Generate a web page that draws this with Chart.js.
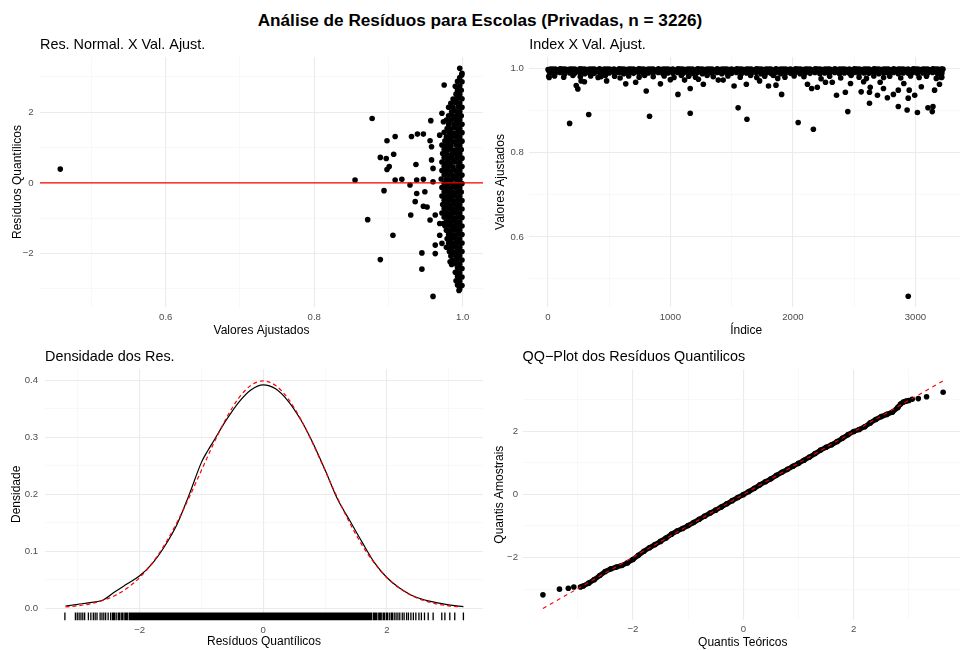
<!DOCTYPE html>
<html>
<head>
<meta charset="utf-8">
<script src="https://cdn.jsdelivr.net/npm/chart.js@4/dist/chart.umd.min.js"></script>
<style>
  html, body { margin: 0; padding: 0; background: #fff; overflow: hidden; width: 960px; height: 650px; }
  #titulo { position: absolute; left: 0; top: 10px; width: 960px; text-align: center;
            font: bold 17.2px 'Liberation Sans', Arial, sans-serif; line-height: 20px; color: #000; }
  canvas { position: absolute; }
</style>
</head>
<body>
<div id="titulo">Análise de Resíduos para Escolas (Privadas, n = 3226)</div>
<canvas id="g1" width="490" height="310" style="left:0px;top:30px"></canvas>
<canvas id="g2" width="487" height="310" style="left:480px;top:30px"></canvas>
<canvas id="g3" width="490" height="310" style="left:0px;top:340px"></canvas>
<canvas id="g4" width="487" height="310" style="left:480px;top:340px"></canvas>
<script>
// ---------- Resíduos quantílicos x valores ajustados: [ajustado, resíduo] ----------
const residuosVsAjustados = [
  [0.999,3.10],[0.996,2.98],[0.999,2.86],[0.993,2.87],[0.996,2.74],[0.990,2.73],[0.998,2.62],[0.993,2.61],
  [0.996,2.50],[0.991,2.51],[0.999,2.38],[0.993,2.39],[0.987,2.37],[0.996,2.26],[0.990,2.27],[0.984,2.25],
  [0.999,2.14],[0.994,2.15],[0.987,2.13],[0.981,2.14],[0.996,2.02],[0.990,2.03],[0.985,2.01],
  [0.998,1.90],[0.993,1.91],[0.987,1.89],[0.981,1.90],[0.996,1.78],[0.990,1.79],[0.984,1.77],[0.978,1.78],
  [0.999,1.66],[0.993,1.67],[0.988,1.65],[0.981,1.66],[0.996,1.54],[0.990,1.55],[0.984,1.53],[0.979,1.54],
  [0.999,1.42],[0.993,1.43],[0.987,1.41],[0.982,1.42],[0.975,1.43],[0.996,1.30],[0.990,1.31],[0.984,1.29],[0.978,1.30],
  [0.999,1.18],[0.993,1.19],[0.987,1.17],[0.981,1.18],[0.976,1.19],[0.996,1.06],[0.991,1.07],[0.984,1.05],[0.978,1.06],[0.972,1.07],
  [0.998,0.94],[0.993,0.95],[0.987,0.93],[0.981,0.94],[0.975,0.95],[0.996,0.82],[0.990,0.83],[0.985,0.81],[0.978,0.82],[0.973,0.83],
  [0.999,0.70],[0.993,0.71],[0.987,0.69],[0.981,0.70],[0.975,0.71],[0.996,0.58],[0.990,0.59],[0.984,0.57],[0.978,0.58],[0.972,0.59],
  [0.999,0.46],[0.994,0.47],[0.987,0.45],[0.981,0.46],[0.975,0.47],[0.996,0.34],[0.990,0.35],[0.984,0.33],[0.978,0.34],[0.972,0.35],
  [0.999,0.22],[0.993,0.23],[0.987,0.21],[0.981,0.22],[0.975,0.23],[0.996,0.10],[0.990,0.11],[0.984,0.09],[0.978,0.10],[0.971,0.11],
  [0.999,-0.02],[0.993,-0.01],[0.987,-0.03],[0.981,-0.02],[0.975,-0.01],[0.996,-0.14],[0.990,-0.13],[0.984,-0.15],[0.978,-0.14],[0.972,-0.13],
  [0.998,-0.26],[0.993,-0.25],[0.987,-0.27],[0.981,-0.26],[0.975,-0.25],[0.996,-0.38],[0.990,-0.37],[0.984,-0.39],[0.978,-0.38],[0.972,-0.37],
  [0.999,-0.50],[0.993,-0.49],[0.987,-0.51],[0.981,-0.50],[0.975,-0.49],[0.996,-0.62],[0.990,-0.61],[0.984,-0.63],[0.978,-0.62],[0.973,-0.61],
  [0.999,-0.74],[0.993,-0.73],[0.987,-0.75],[0.981,-0.74],[0.975,-0.73],[0.996,-0.86],[0.990,-0.85],[0.984,-0.87],[0.978,-0.86],[0.972,-0.85],
  [0.999,-0.98],[0.993,-0.97],[0.987,-0.99],[0.981,-0.98],[0.975,-0.97],[0.996,-1.10],[0.990,-1.09],[0.984,-1.11],[0.978,-1.10],
  [0.999,-1.22],[0.993,-1.21],[0.987,-1.23],[0.981,-1.22],[0.976,-1.21],[0.996,-1.34],[0.990,-1.33],[0.984,-1.35],[0.978,-1.34],
  [0.999,-1.46],[0.993,-1.45],[0.987,-1.47],[0.981,-1.46],[0.996,-1.58],[0.990,-1.57],[0.984,-1.59],[0.979,-1.58],
  [0.999,-1.70],[0.993,-1.69],[0.987,-1.71],[0.981,-1.70],[0.996,-1.82],[0.990,-1.81],[0.984,-1.83],[0.978,-1.82],
  [0.999,-1.94],[0.993,-1.93],[0.987,-1.95],[0.982,-1.94],[0.996,-2.06],[0.990,-2.05],[0.984,-2.07],
  [0.999,-2.18],[0.993,-2.17],[0.987,-2.19],[0.996,-2.30],[0.990,-2.29],[0.985,-2.31],
  [0.999,-2.42],[0.993,-2.41],[0.996,-2.54],[0.990,-2.53],[0.999,-2.66],[0.993,-2.65],
  [0.996,-2.78],[0.991,-2.77],[0.999,-2.90],[0.993,-2.89],[0.996,-3.00],
  [0.458,0.39],[0.855,0.08],[0.878,1.82],[0.872,-1.04],[0.889,-2.17],[0.889,0.72],[0.894,-0.22],[0.897,0.69],
  [0.898,1.19],[0.898,0.38],[0.901,0.46],[0.906,-1.48],[0.907,0.81],[0.909,1.31],[0.909,0.08],[0.918,0.10],
  [0.929,-0.06],[0.930,-0.91],[0.931,1.31],[0.936,-0.53],[0.937,0.52],[0.938,0.08],[0.938,-0.30],[0.939,1.38],
  [0.945,-1.98],[0.945,-2.44],[0.947,1.38],[0.947,0.10],[0.947,-0.66],[0.949,-0.25],[0.952,-0.68],[0.956,1.19],
  [0.956,-1.05],[0.957,1.76],[0.958,1.02],[0.958,0.65],[0.960,0.41],[0.960,0.03],[0.960,-3.21],[0.963,-0.91],
  [0.963,-1.76],[0.963,-2.00],[0.969,1.35],[0.969,-1.15],[0.969,-1.48],[0.972,1.97],[0.972,-1.71],[0.974,1.73],
  [0.974,-1.15],[0.975,2.77],[0.981,-1.53],[0.983,-2.23],[0.994,-2.75],[0.995,-3.04],[0.996,3.24],[0.9987,3.05]
];

// ---------- Índice x valores ajustados: [índice, ajustado] ----------
const indiceVsAjustados = [
  [2,.998],[41,.999],[80,.997],[121,.999],[160,.998],[199,.999],[241,.997],[280,.999],[320,.998],[361,.999],
  [400,.997],[439,.998],[481,.999],[520,.998],[560,.997],[601,.999],[640,.998],[679,.999],[721,.997],[760,.999],
  [800,.998],[841,.999],[880,.997],[919,.998],[961,.999],[1000,.998],[1040,.997],[1081,.999],[1120,.998],[1159,.999],
  [1201,.997],[1240,.999],[1280,.998],[1321,.999],[1360,.997],[1399,.998],[1441,.999],[1480,.998],[1520,.997],[1561,.999],
  [1600,.998],[1639,.999],[1681,.997],[1720,.999],[1760,.998],[1801,.999],[1840,.997],[1879,.998],[1921,.999],[1960,.998],
  [2000,.997],[2041,.999],[2080,.998],[2119,.999],[2161,.997],[2200,.999],[2240,.998],[2281,.999],[2320,.997],[2359,.998],
  [2401,.999],[2440,.998],[2480,.997],[2521,.999],[2560,.998],[2599,.999],[2641,.997],[2680,.999],[2720,.998],[2761,.999],
  [2800,.997],[2839,.998],[2881,.999],[2920,.998],[2960,.997],[3001,.999],[3040,.998],[3079,.999],[3121,.997],[3160,.999],
  [3200,.998],[3224,.999],
  [22,.9995],[62,.9993],[101,.9996],[141,.9994],[181,.9995],[220,.9993],[262,.9996],[301,.9994],[341,.9995],[380,.9993],
  [422,.9996],[461,.9994],[501,.9995],[540,.9993],[582,.9996],[621,.9994],[661,.9995],[700,.9993],[742,.9996],[781,.9994],
  [821,.9995],[860,.9993],[902,.9996],[941,.9994],[981,.9995],[1020,.9993],[1062,.9996],[1101,.9994],[1141,.9995],[1180,.9993],
  [1222,.9996],[1261,.9994],[1301,.9995],[1340,.9993],[1382,.9996],[1421,.9994],[1461,.9995],[1500,.9993],[1542,.9996],[1581,.9994],
  [1621,.9995],[1660,.9993],[1702,.9996],[1741,.9994],[1781,.9995],[1820,.9993],[1862,.9996],[1901,.9994],[1941,.9995],[1980,.9993],
  [2022,.9996],[2061,.9994],[2101,.9995],[2140,.9993],[2182,.9996],[2221,.9994],[2261,.9995],[2300,.9993],[2342,.9996],[2381,.9994],
  [2421,.9995],[2460,.9993],[2502,.9996],[2541,.9994],[2581,.9995],[2620,.9993],[2662,.9996],[2701,.9994],[2741,.9995],[2780,.9993],
  [2822,.9996],[2861,.9994],[2901,.9995],[2940,.9993],[2982,.9996],[3021,.9994],[3061,.9995],[3100,.9993],[3142,.9996],[3181,.9994],
  [3212,.9995],
  [11,.994],[50,.995],[91,.994],[130,.993],[170,.995],[211,.994],[250,.995],[290,.993],[331,.994],[370,.995],
  [410,.994],[451,.993],[490,.995],[530,.994],[571,.995],[610,.993],[650,.994],[691,.995],[730,.994],[770,.993],
  [811,.995],[850,.994],[890,.995],[931,.993],[970,.994],[1010,.995],[1051,.994],[1090,.993],[1130,.995],[1171,.994],
  [1210,.995],[1250,.993],[1291,.994],[1330,.995],[1370,.994],[1411,.993],[1450,.995],[1490,.994],[1531,.995],[1570,.993],
  [1610,.994],[1651,.995],[1690,.994],[1730,.993],[1771,.995],[1810,.994],[1850,.995],[1891,.993],[1930,.994],[1970,.995],
  [2011,.994],[2050,.993],[2090,.995],[2131,.994],[2170,.995],[2210,.993],[2251,.994],[2290,.995],[2330,.994],[2371,.993],
  [2410,.995],[2450,.994],[2491,.995],[2530,.993],[2570,.994],[2611,.995],[2650,.994],[2690,.993],[2731,.995],[2770,.994],
  [2810,.995],[2851,.993],[2890,.994],[2930,.995],[2971,.994],[3010,.993],[3050,.995],[3091,.994],[3130,.995],[3170,.993],
  [3210,.994],
  [20,.990],[61,.989],[100,.991],[139,.988],[181,.990],[220,.989],[260,.991],[301,.988],[340,.990],[379,.989],
  [421,.991],[460,.988],[500,.990],[541,.989],[580,.991],[619,.988],[661,.990],[700,.989],[740,.991],[781,.988],
  [820,.990],[859,.989],[901,.991],[940,.988],[980,.990],[1021,.989],[1060,.991],[1099,.988],[1141,.990],[1180,.989],
  [1220,.991],[1261,.988],[1300,.990],[1339,.989],[1381,.991],[1420,.988],[1460,.990],[1501,.989],[1540,.991],[1579,.988],
  [1621,.990],[1660,.989],[1700,.991],[1741,.988],[1780,.990],[1819,.989],[1861,.991],[1900,.988],[1940,.990],[1981,.989],
  [2020,.991],[2059,.988],[2101,.990],[2140,.989],[2180,.991],[2221,.988],[2260,.990],[2299,.989],[2341,.991],[2380,.988],
  [2420,.990],[2461,.989],[2500,.991],[2539,.988],[2581,.990],[2620,.989],[2660,.991],[2701,.988],[2740,.990],[2779,.989],
  [2821,.991],[2860,.988],[2900,.990],[2941,.989],[2980,.991],[3019,.988],[3061,.990],[3100,.989],[3140,.991],[3181,.988],
  [3216,.990],
  [8,.982],[55,.983],[130,.980],[205,.984],[265,.981],[350,.983],[410,.979],[470,.984],[545,.982],[590,.978],
  [660,.983],[745,.980],[790,.984],[860,.981],[950,.983],[1030,.979],[1090,.984],[1150,.982],[1205,.980],[1300,.984],
  [1350,.981],[1470,.983],[1570,.980],[1655,.984],[1705,.979],[1770,.982],[1840,.984],[1935,.980],[2010,.983],[2090,.981],
  [2230,.976],[2300,.982],[2390,.978],[2475,.984],[2540,.980],[2600,.977],[2660,.983],[2740,.979],[2790,.982],[2880,.978],
  [2960,.983],[3030,.979],[3090,.982],[3170,.977],[3215,.980],
  [11,.979],[232,.960],[245,.952],[272,.971],[299,.969],[178,.870],[334,.891],[480,.971],[434,.981],[636,.964],
  [717,.968],[803,.947],[830,.887],[919,.964],[1000,.974],[1062,.939],[1116,.973],[1162,.953],[1162,.894],[1229,.975],
  [1269,.963],[1391,.973],[1431,.973],[1520,.959],[1553,.907],[1620,.963],[1625,.880],[1728,.971],[1801,.959],[1862,.961],
  [1876,.977],[1908,.939],[2043,.872],[2119,.963],[2153,.953],[2167,.856],[2199,.956],[2266,.968],[2321,.968],[2356,.937],
  [2428,.944],[2448,.898],[2470,.965],[2557,.945],[2577,.969],[2625,.944],[2625,.918],[2631,.956],[2690,.937],[2712,.968],
  [2739,.953],[2771,.931],[2820,.939],[2860,.910],[2860,.949],[2905,.965],[2932,.902],[2941,.930],[2949,.949],[2994,.937],
  [3016,.896],[3048,.957],[3102,.907],[3137,.898],[3143,.910],[3156,.949],[3196,.963],[3210,.979],[2941,.459]
];

// ---------- Densidade dos resíduos ----------
const densidadeX = [-3.2,-3.0,-2.8,-2.6,-2.4,-2.2,-2.0,-1.8,-1.6,-1.4,-1.2,-1.0,-0.9,-0.8,-0.6,-0.4,-0.2,0,
                    0.2,0.4,0.6,0.8,1.0,1.2,1.4,1.6,1.8,2.0,2.2,2.4,2.6,2.8,3.0,3.24];
const densidadeY = [0.004,0.007,0.010,0.014,0.029,0.043,0.057,0.078,0.108,0.146,0.199,0.256,0.276,0.294,0.330,0.361,0.383,0.392,
                    0.385,0.364,0.332,0.291,0.243,0.192,0.154,0.116,0.080,0.054,0.036,0.023,0.015,0.010,0.006,0.003];
const normalX = [-3.2,-3.0,-2.8,-2.6,-2.4,-2.2,-2.0,-1.8,-1.6,-1.4,-1.2,-1.0,-0.8,-0.6,-0.4,-0.2,0,
                 0.2,0.4,0.6,0.8,1.0,1.2,1.4,1.6,1.8,2.0,2.2,2.4,2.6,2.8,3.0,3.2];
const normalY = [0.0024,0.0044,0.0079,0.0136,0.0224,0.0355,0.0540,0.0790,0.1109,0.1497,0.1942,0.2420,0.2897,0.3332,0.3683,0.3910,0.3989,
                 0.3910,0.3683,0.3332,0.2897,0.2420,0.1942,0.1497,0.1109,0.0790,0.0540,0.0355,0.0224,0.0136,0.0079,0.0044,0.0024];
const rugResiduos = [
  -3.21,-3.04,-3.01,-2.98,-2.95,-2.92,-2.89,-2.83,-2.79,-2.75,-2.72,-2.69,-2.64,-2.61,-2.58,-2.55,-2.51,-2.47,-2.44,
  -2.42,-2.40,-2.37,-2.34,-2.32,-2.29,-2.27,-2.24,-2.22,-2.20,-2.17,-2.15,-2.13,-2.11,-2.09,-2.07,-2.05,-2.03,-2.01,
  -1.99,-1.97,-1.95,-1.93,-1.91,-1.89,-1.87,-1.85,-1.83,-1.81,-1.79,-1.77,-1.75,-1.73,-1.71,-1.69,-1.67,-1.65,-1.63,
  -1.61,-1.59,-1.57,-1.55,-1.53,-1.51,-1.49,-1.47,-1.45,-1.43,-1.41,-1.39,-1.37,-1.35,-1.33,-1.31,-1.29,-1.27,-1.25,
  -1.23,-1.21,-1.19,-1.17,-1.15,-1.13,-1.11,-1.09,-1.07,-1.05,-1.03,-1.01,-0.99,-0.97,-0.95,-0.93,-0.91,-0.89,-0.87,
  -0.85,-0.83,-0.81,-0.79,-0.77,-0.75,-0.73,-0.71,-0.69,-0.67,-0.65,-0.63,-0.61,-0.59,-0.57,-0.55,-0.53,-0.51,-0.49,
  -0.47,-0.45,-0.43,-0.41,-0.39,-0.37,-0.35,-0.33,-0.31,-0.29,-0.27,-0.25,-0.23,-0.21,-0.19,-0.17,-0.15,-0.13,-0.11,
  -0.09,-0.07,-0.05,-0.03,-0.01,0.01,0.03,0.05,0.07,0.09,0.11,0.13,0.15,0.17,0.19,0.21,0.23,0.25,0.27,0.29,0.31,0.33,
  0.35,0.37,0.39,0.41,0.43,0.45,0.47,0.49,0.51,0.53,0.55,0.57,0.59,0.61,0.63,0.65,0.67,0.69,0.71,0.73,0.75,0.77,0.79,
  0.81,0.83,0.85,0.87,0.89,0.91,0.93,0.95,0.97,0.99,1.01,1.03,1.05,1.07,1.09,1.11,1.13,1.15,1.17,1.19,1.21,1.23,1.25,
  1.27,1.29,1.31,1.33,1.35,1.37,1.39,1.41,1.43,1.45,1.47,1.49,1.51,1.53,1.55,1.57,1.59,1.61,
  1.63,1.65,1.67,1.69,1.71,1.73,1.75,1.78,1.80,1.82,1.84,1.87,1.89,1.91,1.94,1.96,1.99,2.01,2.04,2.07,2.09,2.12,
  2.15,2.18,2.21,2.25,2.28,2.32,2.35,2.39,2.43,2.47,2.52,2.56,2.61,2.67,2.75,2.89,2.94,3.02,3.10,3.24
];

// ---------- QQ-plot ----------
const qqTeoricos = [-2.95,-2.9,-2.8,-2.7,-2.6,-2.5,-2.4,-2.3,-2.2,-2.1,-2.0,-1.9,-1.8,-1.7,-1.6,-1.5,-1.4,-1.3,-1.2,-1.1,
                    -1.0,-0.9,-0.8,-0.7,-0.6,-0.5,-0.4,-0.3,-0.2,-0.1,0,0.1,0.2,0.3,0.4,0.5,0.6,0.7,0.8,0.9,
                    1.0,1.1,1.2,1.3,1.4,1.5,1.6,1.7,1.8,1.9,2.0,2.1,2.2,2.3,2.4,2.5,2.6,2.7,2.8,2.85,2.9,2.95,3.0];
const qqAmostrais = [-2.93,-2.90,-2.81,-2.70,-2.57,-2.44,-2.36,-2.30,-2.25,-2.17,-2.06,-1.93,-1.80,-1.69,-1.59,-1.49,-1.38,-1.26,-1.16,-1.08,
                     -0.99,-0.89,-0.79,-0.69,-0.59,-0.50,-0.40,-0.30,-0.20,-0.10,-0.01,0.09,0.19,0.30,0.40,0.49,0.60,0.70,0.79,0.89,
                     0.98,1.08,1.18,1.29,1.40,1.49,1.57,1.67,1.78,1.89,1.99,2.05,2.14,2.26,2.37,2.46,2.53,2.60,2.75,2.86,2.92,2.95,2.97];
const qqCaudaTeoricos = [-3.63,-3.33,-3.17,-3.07,3.06,3.17,3.32,3.62];
const qqCaudaAmostrais = [-3.18,-3.00,-2.97,-2.93,3.01,3.03,3.09,3.23];
const qqLinhaX = [-3.63, 3.62];
const qqLinhaY = [-3.61, 3.59];

// ---------- helpers ----------
const FONTE = "'Liberation Sans', Arial, Helvetica, sans-serif";
Chart.defaults.font.family = FONTE;
Chart.defaults.color = '#4d4d4d';
Chart.defaults.animation = false;
Chart.defaults.plugins.legend.display = false;
Chart.defaults.plugins.tooltip.enabled = false;

const MENOS = '\u2212';
const fmt = (v, casas) => (v < -1e-9 ? MENOS : '') + Math.abs(v).toFixed(casas);
const pares = (xs, ys) => xs.map((x, i) => ({ x, y: ys[i] }));
const deLista = lista => lista.map(([x, y]) => ({ x, y }));

function eixo(o) {
  const maior = v => o.rotulos.some(r => Math.abs(r - v) < 1e-9);
  const horizontal = o.pos === 'bottom';
  return {
    type: 'linear', position: o.pos, min: o.min, max: o.max,
    afterBuildTicks: s => { s.ticks = o.marcas.map(v => ({ value: v })); },
    afterFit: s => {
      if (horizontal) s.height = o.espaco; else s.width = o.espaco;
      s.paddingLeft = 0; s.paddingRight = 0; s.paddingTop = 0; s.paddingBottom = 0;
    },
    ticks: {
      autoSkip: false, maxRotation: 0, minRotation: 0, padding: o.padRotulo,
      color: '#4d4d4d', font: { size: 9.6 },
      callback: v => maior(v) ? fmt(v, o.casas) : ''
    },
    grid: {
      drawTicks: false,
      color: c => (c.tick && maior(c.tick.value)) ? '#ebebeb' : '#f3f3f3',
      lineWidth: c => (c.tick && maior(c.tick.value)) ? 1.1 : 0.6
    },
    border: { display: false },
    title: {
      display: true, text: o.titulo, color: '#000', font: { size: 12 },
      padding: horizontal ? { top: 0, bottom: o.padTitulo } : { top: o.padTitulo, bottom: 0 }
    }
  };
}

// panel title, aligned with the left edge of the plotting area
const tituloPainel = {
  id: 'tituloPainel',
  afterDraw(chart, args, opts) {
    const { ctx, chartArea } = chart;
    ctx.save();
    ctx.font = '14.4px ' + FONTE;
    ctx.fillStyle = '#000';
    ctx.textAlign = 'left';
    ctx.textBaseline = 'alphabetic';
    ctx.fillText(opts.texto, chartArea.left, chartArea.top - 8.3);
    ctx.restore();
  }
};

// horizontal reference line at residual 0
const linhaZero = {
  id: 'linhaZero',
  afterDatasetsDraw(chart) {
    const { ctx, chartArea, scales } = chart;
    const y = scales.y.getPixelForValue(0);
    ctx.save();
    ctx.strokeStyle = '#ff0000';
    ctx.lineWidth = 1.2;
    ctx.beginPath();
    ctx.moveTo(chartArea.left, y);
    ctx.lineTo(chartArea.right, y);
    ctx.stroke();
    ctx.restore();
  }
};

// rug of the residuals along the bottom edge of the density panel
const rug = {
  id: 'rug',
  afterDatasetsDraw(chart, args, opts) {
    const { ctx, chartArea, scales } = chart;
    ctx.save();
    ctx.strokeStyle = '#000';
    ctx.lineWidth = 1.3;
    ctx.beginPath();
    for (const v of opts.valores) {
      const px = scales.x.getPixelForValue(v);
      ctx.moveTo(px, chartArea.bottom + 0.5);
      ctx.lineTo(px, chartArea.bottom - 7.2);
    }
    ctx.stroke();
    ctx.restore();
  }
};

const ponto = { pointRadius: 2.8, pointBackgroundColor: '#000', pointBorderWidth: 0, backgroundColor: '#000', borderColor: '#000' };

// 1) Res. Normal. X Val. Ajust.
new Chart(document.getElementById('g1'), {
  type: 'scatter',
  data: { datasets: [{ data: deLista(residuosVsAjustados), ...ponto }] },
  options: {
    responsive: false, devicePixelRatio: 1, events: [],
    layout: { padding: { top: 27, right: 7, left: 0, bottom: 0 } },
    scales: {
      x: eixo({ pos: 'bottom', min: 0.4307, max: 1.0273, marcas: [0.5,0.6,0.7,0.8,0.9,1.0], rotulos: [0.6,0.8,1.0],
                casas: 1, titulo: 'Valores Ajustados', espaco: 33, padRotulo: 5, padTitulo: 2.1 }),
      y: eixo({ pos: 'left', min: -3.51, max: 3.56, marcas: [-3,-2,-1,0,1,2,3], rotulos: [-2,0,2],
                casas: 0, titulo: 'Resíduos Quantílicos', espaco: 40, padRotulo: 6.3, padTitulo: 10.5 })
    },
    plugins: { tituloPainel: { texto: 'Res. Normal. X Val. Ajust.' } }
  },
  plugins: [tituloPainel, linhaZero]
});

// 2) Index X Val. Ajust.
new Chart(document.getElementById('g2'), {
  type: 'scatter',
  data: { datasets: [{ data: deLista(indiceVsAjustados), ...ponto }] },
  options: {
    responsive: false, devicePixelRatio: 1, events: [],
    layout: { padding: { top: 27, right: 0, left: 0, bottom: 0 } },
    scales: {
      x: eixo({ pos: 'bottom', min: -151, max: 3388, marcas: [0,500,1000,1500,2000,2500,3000], rotulos: [0,1000,2000,3000],
                casas: 0, titulo: 'Índice', espaco: 33, padRotulo: 5, padTitulo: 2 }),
      y: eixo({ pos: 'left', min: 0.4333, max: 1.0279, marcas: [0.5,0.6,0.7,0.8,0.9,1.0], rotulos: [0.6,0.8,1.0],
                casas: 1, titulo: 'Valores Ajustados', espaco: 49.3, padRotulo: 5.5, padTitulo: 13.5 })
    },
    plugins: { tituloPainel: { texto: 'Index X Val. Ajust.' } }
  },
  plugins: [tituloPainel]
});

// 3) Densidade dos Res.
new Chart(document.getElementById('g3'), {
  type: 'scatter',
  data: { datasets: [
    { data: pares(normalX, normalY), showLine: true, pointRadius: 0, borderColor: '#ff0000', borderWidth: 1.2,
      borderDash: [4, 3], cubicInterpolationMode: 'monotone', fill: false },
    { data: pares(densidadeX, densidadeY), showLine: true, pointRadius: 0, borderColor: '#000', borderWidth: 1.2,
      cubicInterpolationMode: 'monotone', fill: false }
  ] },
  options: {
    responsive: false, devicePixelRatio: 1, events: [],
    layout: { padding: { top: 29, right: 7, left: 0, bottom: 0 } },
    scales: {
      x: eixo({ pos: 'bottom', min: -3.532, max: 3.557, marcas: [-3,-2,-1,0,1,2,3], rotulos: [-2,0,2],
                casas: 0, titulo: 'Resíduos Quantílicos', espaco: 30.3, padRotulo: 5.2, padTitulo: 1.1 }),
      y: eixo({ pos: 'left', min: -0.02, max: 0.4198, marcas: [0,0.05,0.1,0.15,0.2,0.25,0.3,0.35,0.4], rotulos: [0,0.1,0.2,0.3,0.4],
                casas: 1, titulo: 'Densidade', espaco: 45, padRotulo: 7, padTitulo: 9.8 })
    },
    plugins: { tituloPainel: { texto: 'Densidade dos Res.' }, rug: { valores: rugResiduos } }
  },
  plugins: [tituloPainel, rug]
});

// 4) QQ-Plot dos Resíduos Quantílicos
new Chart(document.getElementById('g4'), {
  type: 'scatter',
  data: { datasets: [
    { data: pares(qqLinhaX, qqLinhaY), showLine: true, pointRadius: 0, borderColor: '#ff0000', borderWidth: 1.1,
      borderDash: [4, 4], fill: false },
    { data: pares(qqCaudaTeoricos, qqCaudaAmostrais), ...ponto },
    { data: pares(qqTeoricos, qqAmostrais), ...ponto, showLine: true, borderWidth: 5, fill: false }
  ] },
  options: {
    responsive: false, devicePixelRatio: 1, events: [],
    layout: { padding: { top: 29.5, right: 0, left: 0, bottom: 0 } },
    scales: {
      x: eixo({ pos: 'bottom', min: -4.0, max: 3.98, marcas: [-3,-2,-1,0,1,2,3], rotulos: [-2,0,2],
                casas: 0, titulo: 'Quantis Teóricos', espaco: 30.2, padRotulo: 4, padTitulo: 0.2 }),
      y: eixo({ pos: 'left', min: -3.97, max: 3.95, marcas: [-3,-2,-1,0,1,2,3], rotulos: [-2,0,2],
                casas: 0, titulo: 'Quantis Amostrais', espaco: 42.5, padRotulo: 4.5, padTitulo: 12.8 })
    },
    plugins: { tituloPainel: { texto: 'QQ\u2212Plot dos Resíduos Quantilicos' } }
  },
  plugins: [tituloPainel]
});
</script>
</body>
</html>
